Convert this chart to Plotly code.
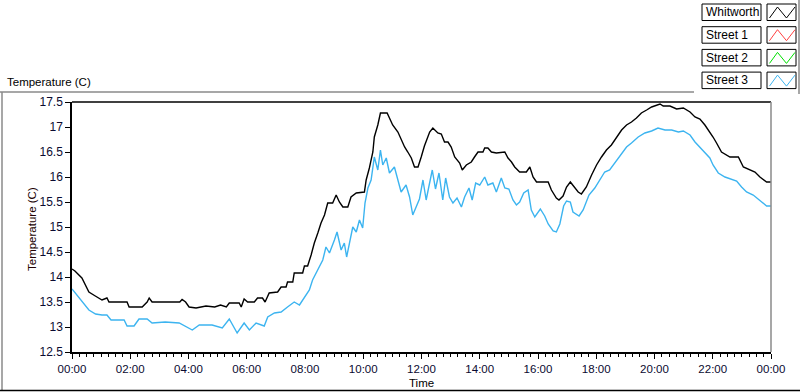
import plotly.graph_objects as go

# ---------------- DATA ----------------
whit_hours = [0.0, 0.1, 0.34, 0.58, 0.8, 1.03, 1.2, 1.27, 1.89, 1.96, 2.41, 2.58, 2.65, 2.75, 3.7, 3.78,
              3.9, 4.02, 4.26, 4.6, 4.9, 5.1, 5.3, 5.4, 5.74, 5.81, 5.91, 6.03, 6.26, 6.37, 6.54, 6.63,
              6.77, 6.95, 7.06, 7.18, 7.35, 7.4, 7.58, 7.63, 7.92, 7.98, 8.09, 8.21, 8.32, 8.44, 8.55,
              8.67, 8.78, 8.95, 9.07, 9.18, 9.3, 9.47, 9.58, 9.76, 10.04, 10.1, 10.21, 10.33, 10.38,
              10.5, 10.59, 10.82, 10.9, 11.01, 11.19, 11.3, 11.42, 11.53, 11.65, 11.76, 11.88, 11.99,
              12.1, 12.28, 12.39, 12.56, 12.68, 12.79, 12.91, 13.02, 13.14, 13.31, 13.4, 13.54, 13.71,
              13.82, 13.94, 14.11, 14.17, 14.28, 14.4, 14.57, 14.86, 14.97, 15.09, 15.2, 15.37, 15.6,
              15.72, 15.83, 15.95, 16.35, 16.46, 16.63, 16.72, 16.86, 16.98, 17.11, 17.26, 17.38,
              17.49, 17.66, 17.84, 18.01, 18.18, 18.35, 18.52, 18.7, 18.87, 19.04, 19.21, 19.38,
              19.55, 19.73, 19.9, 20.19, 20.3, 20.53, 20.76, 20.99, 21.22, 21.39, 21.56, 21.73,
              21.9, 22.01, 22.13, 22.3, 22.59, 22.88, 23.05, 23.28, 23.45, 23.62, 23.85, 24.0]
whit_temp = [14.16, 14.12, 13.98, 13.7, 13.62, 13.54, 13.58, 13.5, 13.5, 13.4, 13.4, 13.5, 13.58, 13.5,
             13.5, 13.55, 13.5, 13.4, 13.38, 13.42, 13.4, 13.44, 13.4, 13.48, 13.48, 13.4, 13.56,
             13.5, 13.5, 13.58, 13.58, 13.5, 13.68, 13.7, 13.7, 13.8, 13.8, 13.9, 13.9, 14.08, 14.08,
             14.22, 14.22, 14.44, 14.68, 14.88, 15.08, 15.24, 15.48, 15.48, 15.64, 15.5, 15.4, 15.4,
             15.6, 15.68, 15.7, 15.94, 16.18, 16.5, 16.8, 17.04, 17.28, 17.28, 17.18, 17.04, 16.9,
             16.74, 16.6, 16.5, 16.38, 16.2, 16.2, 16.4, 16.62, 16.9, 16.98, 16.88, 16.86, 16.7,
             16.7, 16.6, 16.4, 16.28, 16.14, 16.24, 16.3, 16.4, 16.5, 16.5, 16.58, 16.58, 16.5,
             16.48, 16.5, 16.38, 16.3, 16.2, 16.1, 16.1, 16.2, 16.0, 15.9, 15.9, 15.74, 15.58,
             15.54, 15.62, 15.8, 15.9, 15.8, 15.7, 15.66, 15.8, 16.04, 16.24, 16.4, 16.54, 16.64,
             16.8, 16.94, 17.04, 17.1, 17.18, 17.28, 17.34, 17.4, 17.46, 17.42, 17.42, 17.36, 17.38,
             17.3, 17.2, 17.16, 17.04, 16.9, 16.8, 16.68, 16.5, 16.4, 16.4, 16.2, 16.14, 16.1, 16.0,
             15.9, 15.9]

street3_hours = [0.0, 0.24, 0.58, 0.81, 1.03, 1.2, 1.34, 1.62, 1.79, 1.89, 2.13, 2.3, 2.58, 2.75, 3.2,
                 3.68, 4.13, 4.37, 4.81, 5.16, 5.4, 5.67, 5.91, 6.09, 6.32, 6.6, 6.72, 6.95, 7.18, 7.4,
                 7.63, 7.81, 7.98, 8.15, 8.26, 8.38, 8.49, 8.61, 8.72, 8.84, 9.01, 9.1, 9.24, 9.35,
                 9.43, 9.56, 9.64, 9.76, 9.87, 9.98, 10.06, 10.16, 10.27, 10.38, 10.5, 10.59, 10.67,
                 10.79, 10.9, 11.07, 11.19, 11.3, 11.47, 11.59, 11.7, 11.82, 11.93, 12.05, 12.16,
                 12.25, 12.37, 12.48, 12.6, 12.73, 12.83, 12.96, 13.08, 13.22, 13.37, 13.48, 13.63,
                 13.74, 13.86, 14.0, 14.17, 14.28, 14.45, 14.57, 14.74, 14.86, 15.0, 15.14, 15.26,
                 15.37, 15.51, 15.66, 15.77, 15.89, 16.08, 16.23, 16.35, 16.52, 16.63, 16.75, 16.88,
                 16.98, 17.11, 17.2, 17.41, 17.55, 17.75, 17.95, 18.12, 18.29, 18.46, 18.64, 18.81,
                 19.04, 19.21, 19.44, 19.67, 19.9, 20.12, 20.36, 20.59, 20.82, 20.99, 21.22, 21.39,
                 21.56, 21.73, 21.9, 22.01, 22.19, 22.42, 22.65, 22.82, 22.99, 23.16, 23.39, 23.62,
                 23.85, 24.0]
street3_temp = [13.76, 13.58, 13.34, 13.26, 13.24, 13.24, 13.14, 13.14, 13.14, 13.02, 13.02, 13.16,
                13.16, 13.08, 13.1, 13.08, 12.94, 13.04, 13.04, 12.98, 13.16, 12.88, 13.08, 12.94,
                13.08, 13.02, 13.2, 13.28, 13.3, 13.4, 13.5, 13.44, 13.6, 13.74, 13.94, 14.08, 14.2,
                14.34, 14.6, 14.48, 14.74, 14.9, 14.54, 14.68, 14.4, 14.8, 15.0, 14.9, 15.14, 14.98,
                15.48, 15.78, 15.94, 16.4, 16.14, 16.54, 16.24, 16.38, 16.08, 16.2, 15.94, 15.7,
                15.84, 15.6, 15.24, 15.4, 15.56, 15.94, 15.54, 15.8, 16.14, 15.76, 16.08, 15.54,
                15.98, 15.6, 15.48, 15.58, 15.4, 15.6, 15.78, 15.54, 15.88, 15.84, 16.0, 15.84,
                15.88, 15.7, 15.98, 15.78, 15.76, 15.54, 15.44, 15.5, 15.68, 15.74, 15.34, 15.2,
                15.36, 15.22, 15.06, 14.92, 14.9, 15.06, 15.42, 15.52, 15.5, 15.3, 15.22, 15.34,
                15.64, 15.78, 15.94, 16.1, 16.14, 16.28, 16.4, 16.6, 16.68, 16.8, 16.88, 16.92,
                16.98, 16.94, 16.94, 16.9, 16.92, 16.84, 16.7, 16.6, 16.48, 16.38, 16.24, 16.08,
                16.0, 15.96, 15.92, 15.8, 15.7, 15.64, 15.52, 15.42, 15.42]

street1_hours, street1_temp = [], []
street2_hours, street2_temp = [], []

series_names = ["Whitworth", "Street 1", "Street 2", "Street 3"]
series_colors = ["#000000", "#ff4040", "#00e000", "#3cb4f0"]

xtick_vals = [0, 2, 4, 6, 8, 10, 12, 14, 16, 18, 20, 22, 24]
xtick_text = ["00:00", "02:00", "04:00", "06:00", "08:00", "10:00", "12:00",
              "14:00", "16:00", "18:00", "20:00", "22:00", "00:00"]

# ---------------- FIGURE ----------------
W, H = 800, 392
L, R, T, B = 72, 771, 102, 352
FONT = "Liberation Sans"


def px(x):
    return (x - L) / (R - L)


def py(y):
    return (B - y) / (B - T)


fig = go.Figure()
all_series = [(whit_hours, whit_temp), (street1_hours, street1_temp),
              (street2_hours, street2_temp), (street3_hours, street3_temp)]
for idx in [1, 2, 3, 0]:
    hx, ty = all_series[idx]
    fig.add_trace(go.Scatter(x=hx, y=ty, mode="lines", name=series_names[idx],
                             line=dict(color=series_colors[idx], width=1.4),
                             showlegend=False))

shapes = []
annotations = []

# plot frame: top black, right gray
shapes.append(dict(type="line", xref="paper", yref="paper", x0=0, x1=1, y0=1, y1=1,
                   line=dict(color="#000000", width=1.5)))
shapes.append(dict(type="line", xref="paper", yref="paper", x0=1, x1=1, y0=0, y1=1,
                   line=dict(color="#8a8a8a", width=1.5)))

# outer panel frame
shapes.append(dict(type="line", xref="paper", yref="paper", x0=px(0), x1=px(694), y0=py(92), y1=py(92),
                   line=dict(color="#8a8a8a", width=1.5)))
shapes.append(dict(type="line", xref="paper", yref="paper", x0=px(2), x1=px(2), y0=py(92), y1=py(390),
                   line=dict(color="#8a8a8a", width=1.5)))
shapes.append(dict(type="line", xref="paper", yref="paper", x0=px(0), x1=px(800), y0=py(390.5), y1=py(390.5),
                   line=dict(color="#000000", width=1.5)))
shapes.append(dict(type="line", xref="paper", yref="paper", x0=px(799), x1=px(799), y0=py(0), y1=py(94),
                   line=dict(color="#8a8a8a", width=1.5)))

# custom legend
for i, (name, col) in enumerate(zip(series_names, series_colors)):
    top = 4 + i * 22.7
    bot = top + 16.5
    shapes.append(dict(type="rect", xref="paper", yref="paper",
                       x0=px(702), x1=px(761), y0=py(bot), y1=py(top),
                       line=dict(color="#000000", width=1), fillcolor="#ffffff"))
    shapes.append(dict(type="rect", xref="paper", yref="paper",
                       x0=px(767), x1=px(796), y0=py(bot), y1=py(top),
                       line=dict(color="#000000", width=1), fillcolor="#ffffff"))
    pts = [(769.5, bot - 2.5), (777.5, top + 3), (786.5, bot - 2.5), (795, top + 3)]
    path = "M " + " L ".join(f"{px(a):.5f},{py(b):.5f}" for a, b in pts)
    shapes.append(dict(type="path", xref="paper", yref="paper", path=path,
                       line=dict(color=col, width=1)))
    annotations.append(dict(x=px(704), y=py((top + bot) / 2), xref="paper", yref="paper",
                            text=name, showarrow=False, xanchor="left", yanchor="middle",
                            font=dict(family=FONT, size=12, color="#000000")))

# top-left plot label
annotations.append(dict(x=px(5), y=py(82), xref="paper", yref="paper", text="Temperature (C)",
                        showarrow=False, xanchor="left", yanchor="middle",
                        font=dict(family=FONT, size=11.5, color="#000000")))
# y axis title
annotations.append(dict(x=px(32), y=py(229), xref="paper", yref="paper", text="Temperature (C)",
                        showarrow=False, textangle=-90, xanchor="center", yanchor="middle",
                        font=dict(family=FONT, size=11.5, color="#200000")))
# x axis title
annotations.append(dict(x=0.5, y=py(383), xref="paper", yref="paper", text="Time",
                        showarrow=False, xanchor="center", yanchor="middle",
                        font=dict(family=FONT, size=11.5, color="#000000")))

fig.update_layout(
    width=W, height=H,
    margin=dict(l=L, r=W - R, t=T, b=H - B, pad=0),
    paper_bgcolor="#ffffff", plot_bgcolor="#ffffff",
    font=dict(family=FONT, size=11, color="#000000"),
    shapes=shapes, annotations=annotations,
    showlegend=False,
    xaxis=dict(range=[0, 24], tickvals=xtick_vals, ticktext=xtick_text,
               showgrid=False, zeroline=False, showline=True, linecolor="#000000", linewidth=1.5,
               ticks="outside", ticklen=5, tickwidth=1, tickcolor="#000000",
               minor=dict(dtick=0.25, ticks="outside", ticklen=3, tickcolor="#000000", showgrid=False),
               tickfont=dict(family=FONT, size=11.5, color="#0a0a30")),
    yaxis=dict(range=[12.5, 17.5], dtick=0.5, tick0=12.5,
               showgrid=False, zeroline=False, showline=True, linecolor="#000000", linewidth=1.5,
               ticks="outside", ticklen=5, tickwidth=1, tickcolor="#000000",
               tickfont=dict(family=FONT, size=12, color="#0a0a30")),
)

fig.write_html("out.html", config={"displayModeBar": False},
               post_script="document.body.style.margin='0';document.body.style.overflow='hidden';")
